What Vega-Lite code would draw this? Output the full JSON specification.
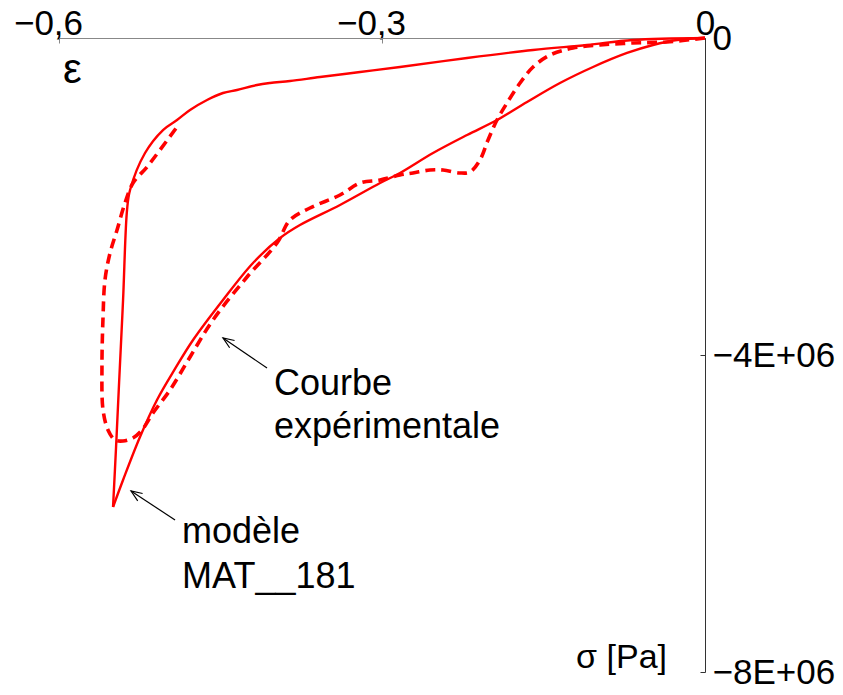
{
  "$schema": "https://vega.github.io/schema/vega-lite/v6.json",
  "width": 646,
  "height": 634,
  "autosize": {"type": "none"},
  "padding": {"left": 59, "top": 38, "right": 138, "bottom": 23},
  "background": "white",
  "config": {"view": {"stroke": null}, "font": "Liberation Sans"},
  "datasets": {
    "model": [
      {"b": 1, "i": 0, "eps": 0, "sigma": 0},
      {"b": 1, "i": 1, "eps": -0.067, "sigma": -25000},
      {"b": 1, "i": 2, "eps": -0.1096, "sigma": -88000},
      {"b": 1, "i": 3, "eps": -0.1597, "sigma": -151000},
      {"b": 1, "i": 4, "eps": -0.221, "sigma": -252000},
      {"b": 1, "i": 5, "eps": -0.2833, "sigma": -366000},
      {"b": 1, "i": 6, "eps": -0.3204, "sigma": -429000},
      {"b": 1, "i": 7, "eps": -0.3576, "sigma": -492000},
      {"b": 1, "i": 8, "eps": -0.3854, "sigma": -543000},
      {"b": 1, "i": 9, "eps": -0.404, "sigma": -568000},
      {"b": 1, "i": 10, "eps": -0.4161, "sigma": -593000},
      {"b": 1, "i": 11, "eps": -0.4347, "sigma": -656000},
      {"b": 1, "i": 12, "eps": -0.4477, "sigma": -694000},
      {"b": 1, "i": 13, "eps": -0.4625, "sigma": -782000},
      {"b": 1, "i": 14, "eps": -0.4783, "sigma": -908000},
      {"b": 1, "i": 15, "eps": -0.4904, "sigma": -1035000},
      {"b": 1, "i": 16, "eps": -0.5034, "sigma": -1161000},
      {"b": 1, "i": 17, "eps": -0.5201, "sigma": -1451000},
      {"b": 1, "i": 18, "eps": -0.534, "sigma": -1918000},
      {"b": 1, "i": 19, "eps": -0.5368, "sigma": -2170000},
      {"b": 1, "i": 20, "eps": -0.5405, "sigma": -3306000},
      {"b": 1, "i": 21, "eps": -0.5442, "sigma": -4353000},
      {"b": 1, "i": 22, "eps": -0.547, "sigma": -5161000},
      {"b": 1, "i": 23, "eps": -0.5498, "sigma": -5918000},
      {"b": 2, "i": 23, "eps": -0.5498, "sigma": -5918000},
      {"b": 2, "i": 24, "eps": -0.5405, "sigma": -5577000},
      {"b": 2, "i": 25, "eps": -0.5248, "sigma": -5035000},
      {"b": 2, "i": 26, "eps": -0.509, "sigma": -4568000},
      {"b": 2, "i": 27, "eps": -0.4923, "sigma": -4176000},
      {"b": 2, "i": 28, "eps": -0.4755, "sigma": -3811000},
      {"b": 2, "i": 29, "eps": -0.4477, "sigma": -3306000},
      {"b": 2, "i": 30, "eps": -0.4198, "sigma": -2839000},
      {"b": 2, "i": 31, "eps": -0.3947, "sigma": -2524000},
      {"b": 2, "i": 32, "eps": -0.3762, "sigma": -2360000},
      {"b": 2, "i": 33, "eps": -0.339, "sigma": -2107000},
      {"b": 2, "i": 34, "eps": -0.3018, "sigma": -1830000},
      {"b": 2, "i": 35, "eps": -0.2833, "sigma": -1703000},
      {"b": 2, "i": 36, "eps": -0.2526, "sigma": -1451000},
      {"b": 2, "i": 37, "eps": -0.221, "sigma": -1224000},
      {"b": 2, "i": 38, "eps": -0.1932, "sigma": -1035000},
      {"b": 2, "i": 39, "eps": -0.1653, "sigma": -808000},
      {"b": 2, "i": 40, "eps": -0.1347, "sigma": -568000},
      {"b": 2, "i": 41, "eps": -0.104, "sigma": -366000},
      {"b": 2, "i": 42, "eps": -0.0724, "sigma": -189000},
      {"b": 2, "i": 43, "eps": -0.0483, "sigma": -88000},
      {"b": 2, "i": 44, "eps": -0.026, "sigma": -25000},
      {"b": 2, "i": 45, "eps": 0, "sigma": 0}
    ],
    "exp": [
      {"i": 0, "eps": 0, "sigma": 0},
      {"i": 1, "eps": -0.0353, "sigma": -50000},
      {"i": 2, "eps": -0.0669, "sigma": -63000},
      {"i": 3, "eps": -0.0975, "sigma": -88000},
      {"i": 4, "eps": -0.1226, "sigma": -126000},
      {"i": 5, "eps": -0.144, "sigma": -215000},
      {"i": 6, "eps": -0.1597, "sigma": -366000},
      {"i": 7, "eps": -0.1718, "sigma": -568000},
      {"i": 8, "eps": -0.1839, "sigma": -820000},
      {"i": 9, "eps": -0.1932, "sigma": -1035000},
      {"i": 10, "eps": -0.2015, "sigma": -1287000},
      {"i": 11, "eps": -0.209, "sigma": -1539000},
      {"i": 12, "eps": -0.2183, "sigma": -1691000},
      {"i": 13, "eps": -0.2276, "sigma": -1703000},
      {"i": 14, "eps": -0.2433, "sigma": -1666000},
      {"i": 15, "eps": -0.2554, "sigma": -1666000},
      {"i": 16, "eps": -0.2712, "sigma": -1703000},
      {"i": 17, "eps": -0.2833, "sigma": -1729000},
      {"i": 18, "eps": -0.3018, "sigma": -1792000},
      {"i": 19, "eps": -0.3204, "sigma": -1830000},
      {"i": 20, "eps": -0.339, "sigma": -1981000},
      {"i": 21, "eps": -0.3669, "sigma": -2145000},
      {"i": 22, "eps": -0.3854, "sigma": -2296000},
      {"i": 23, "eps": -0.3975, "sigma": -2587000},
      {"i": 24, "eps": -0.4254, "sigma": -3016000},
      {"i": 25, "eps": -0.457, "sigma": -3558000},
      {"i": 26, "eps": -0.4783, "sigma": -4025000},
      {"i": 27, "eps": -0.4969, "sigma": -4442000},
      {"i": 28, "eps": -0.5127, "sigma": -4732000},
      {"i": 29, "eps": -0.5229, "sigma": -4946000},
      {"i": 30, "eps": -0.5313, "sigma": -5047000},
      {"i": 31, "eps": -0.5405, "sigma": -5085000},
      {"i": 32, "eps": -0.548, "sigma": -5072000},
      {"i": 33, "eps": -0.5545, "sigma": -4946000},
      {"i": 34, "eps": -0.5591, "sigma": -4694000},
      {"i": 35, "eps": -0.5601, "sigma": -4151000},
      {"i": 36, "eps": -0.5591, "sigma": -3520000},
      {"i": 37, "eps": -0.5573, "sigma": -3054000},
      {"i": 38, "eps": -0.5526, "sigma": -2713000},
      {"i": 39, "eps": -0.5461, "sigma": -2423000},
      {"i": 40, "eps": -0.5387, "sigma": -2082000},
      {"i": 41, "eps": -0.5313, "sigma": -1830000},
      {"i": 42, "eps": -0.5183, "sigma": -1628000},
      {"i": 43, "eps": -0.5062, "sigma": -1413000},
      {"i": 44, "eps": -0.4904, "sigma": -1123000}
    ],
    "arrows": [
      {"eps": -0.4068, "sigma": -4164000, "eps2": -0.4477, "sigma2": -3785000},
      {"eps": -0.4922, "sigma": -6082000, "eps2": -0.5331, "sigma2": -5716000}
    ],
    "notes": [
      {"eps": -0.4003, "sigma": -4505000, "label": "Courbe"},
      {"eps": -0.4003, "sigma": -5047000, "label": "expérimentale"},
      {"eps": -0.4857, "sigma": -6372000, "label": "modèle"},
      {"eps": -0.4857, "sigma": -6940000, "label": "MAT__181"}
    ],
    "epsTitle": [{"eps": -0.5963, "sigma": -568000, "label": "ε"}],
    "sigTitle": [{"eps": -0.0353, "sigma": -7950000, "label": "σ [Pa]"}]
  },
  "layer": [
    {
      "data": {"name": "model"},
      "mark": {"type": "line", "color": "#ff0000", "strokeWidth": 2.4, "interpolate": "catmull-rom"},
      "encoding": {
        "x": {
          "field": "eps", "type": "quantitative",
          "scale": {"domain": [-0.6, 0], "nice": false, "zero": false},
          "axis": {
            "orient": "top", "values": [-0.6, -0.3, 0], "title": null, "grid": false,
            "domainColor": "#888", "tickColor": "#888", "tickSize": -5,
            "labelFont": "Liberation Sans", "labelFontSize": 35, "labelColor": "#000",
            "labelPadding": 9, "labelBaseline": "alphabetic", "labelFlush": false, "labelOverlap": false,
            "labelOffset": {"condition": {"test": "datum.value < 0", "value": -11}, "value": 0},
            "labelExpr": "datum.value == 0 ? '0' : replace(format(datum.value, '.1f'), '.', ',')"
          }
        },
        "y": {
          "field": "sigma", "type": "quantitative",
          "scale": {"domain": [-8000000, 0], "nice": false, "zero": false},
          "axis": {
            "orient": "right", "values": [0, -4000000, -8000000], "title": null, "grid": false,
            "domainColor": "#333", "tickColor": "#333", "tickSize": -5,
            "labelFont": "Liberation Sans", "labelFontSize": 35, "labelColor": "#000",
            "labelPadding": 12, "labelBaseline": "middle", "labelFlush": false, "labelOverlap": false,
            "labelExpr": "datum.value == 0 ? '0' : format(datum.value / 1000000, 'd') + 'E+06'"
          }
        },
        "detail": {"field": "b", "type": "nominal"},
        "order": {"field": "i", "type": "quantitative"}
      }
    },
    {
      "data": {"name": "exp"},
      "mark": {"type": "line", "color": "#ff0000", "strokeWidth": 3.6, "strokeDash": [10, 6], "interpolate": "catmull-rom"},
      "encoding": {
        "x": {"field": "eps", "type": "quantitative"},
        "y": {"field": "sigma", "type": "quantitative"},
        "order": {"field": "i", "type": "quantitative"}
      }
    },
    {
      "data": {"name": "arrows"},
      "mark": {"type": "rule", "color": "#000", "strokeWidth": 1.2},
      "encoding": {
        "x": {"field": "eps", "type": "quantitative"},
        "y": {"field": "sigma", "type": "quantitative"},
        "x2": {"field": "eps2"},
        "y2": {"field": "sigma2"}
      }
    },
    {
      "data": {"name": "arrows"},
      "mark": {"type": "point", "shape": "M-0.8,2L0,0L0.8,2", "size": 121, "angle": 304, "filled": false, "stroke": "#000", "strokeWidth": 1.2, "opacity": 1},
      "encoding": {
        "x": {"field": "eps2", "type": "quantitative"},
        "y": {"field": "sigma2", "type": "quantitative"}
      }
    },
    {
      "data": {"name": "notes"},
      "mark": {"type": "text", "align": "left", "baseline": "alphabetic", "fontSize": 36, "font": "Liberation Sans", "color": "#000"},
      "encoding": {
        "x": {"field": "eps", "type": "quantitative"},
        "y": {"field": "sigma", "type": "quantitative"},
        "text": {"field": "label"}
      }
    },
    {
      "data": {"name": "epsTitle"},
      "mark": {"type": "text", "align": "left", "baseline": "alphabetic", "fontSize": 42, "font": "Liberation Sans", "color": "#000"},
      "encoding": {
        "x": {"field": "eps", "type": "quantitative"},
        "y": {"field": "sigma", "type": "quantitative"},
        "text": {"field": "label"}
      }
    },
    {
      "data": {"name": "sigTitle"},
      "mark": {"type": "text", "align": "right", "baseline": "alphabetic", "fontSize": 34, "font": "Liberation Sans", "color": "#000"},
      "encoding": {
        "x": {"field": "eps", "type": "quantitative"},
        "y": {"field": "sigma", "type": "quantitative"},
        "text": {"field": "label"}
      }
    }
  ]
}
